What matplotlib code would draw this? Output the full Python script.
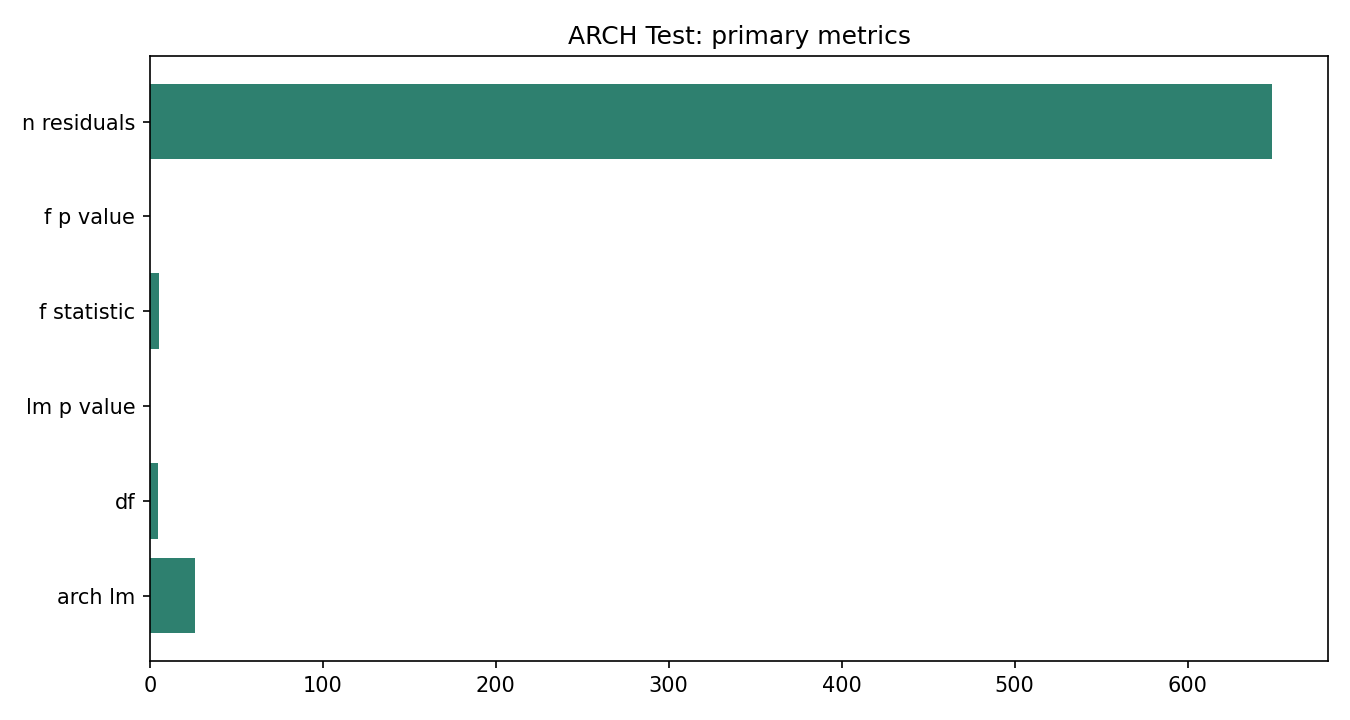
import matplotlib
matplotlib.use("Agg")
import matplotlib.pyplot as plt

metrics = ["arch lm", "df", "lm p value", "f statistic", "f p value", "n residuals"]
values = [26.1, 5, 0.0001, 5.4, 0.0001, 649]

fig, ax = plt.subplots(figsize=(9, 4.8), dpi=150)
ax.barh(metrics, values, color="#2e806f")
ax.set_title("ARCH Test: primary metrics")
fig.subplots_adjust(left=0.111, right=0.984, top=0.922, bottom=0.082)
fig.savefig("out.png")
